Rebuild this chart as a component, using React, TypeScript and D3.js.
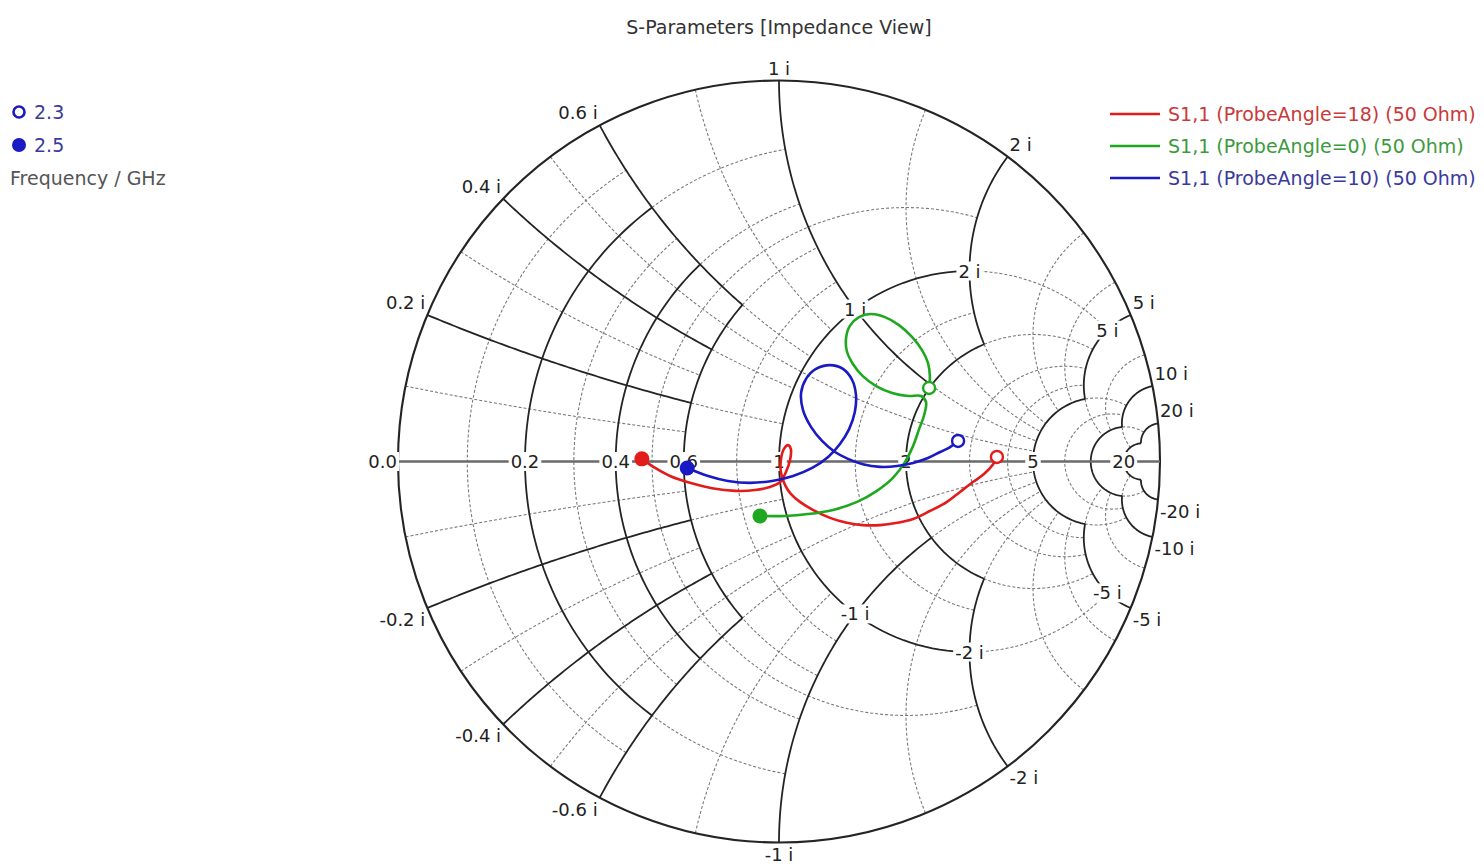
import React, { useEffect, useRef } from "react";
import * as d3 from "d3";

// S1,1 read off the chart as reflection coefficient [re, im],
// each trace runs from 2.3 GHz (open marker) to 2.5 GHz (filled marker)
const s11Angle18: [number, number][] = [
  [0.572, 0.012], [0.562, -0.007], [0.538, -0.033], [0.509, -0.054], [0.475, -0.08],
  [0.441, -0.106], [0.396, -0.13], [0.352, -0.151], [0.31, -0.161], [0.265, -0.167],
  [0.22, -0.167], [0.178, -0.161], [0.134, -0.148], [0.089, -0.127], [0.055, -0.106],
  [0.031, -0.085], [0.016, -0.062], [0.005, -0.028], [0.005, 0.004], [0.013, 0.033],
  [0.024, 0.043], [0.031, 0.033], [0.029, 0.004], [0.018, -0.028], [0.003, -0.054],
  [-0.024, -0.067], [-0.063, -0.075], [-0.115, -0.077], [-0.176, -0.07], [-0.234, -0.056],
  [-0.286, -0.038], [-0.325, -0.017], [-0.36, 0.007],
];
const s11Angle0: [number, number][] = [
  [0.394, 0.193], [0.396, 0.224], [0.391, 0.259], [0.375, 0.293], [0.349, 0.327],
  [0.315, 0.358], [0.278, 0.379], [0.241, 0.387], [0.21, 0.379], [0.186, 0.356],
  [0.176, 0.324], [0.178, 0.29], [0.194, 0.256], [0.22, 0.224], [0.255, 0.198],
  [0.297, 0.18], [0.339, 0.172], [0.373, 0.172], [0.386, 0.156], [0.381, 0.122],
  [0.367, 0.083], [0.352, 0.041], [0.331, -0.001], [0.299, -0.043], [0.257, -0.077],
  [0.205, -0.106], [0.142, -0.127], [0.076, -0.138], [0.016, -0.143], [-0.05, -0.143],
];
const s11Angle10: [number, number][] = [
  [0.47, 0.054], [0.449, 0.038], [0.423, 0.025], [0.391, 0.009], [0.352, -0.004],
  [0.31, -0.012], [0.265, -0.014], [0.22, -0.007], [0.181, 0.007], [0.147, 0.025],
  [0.113, 0.054], [0.084, 0.091], [0.063, 0.135], [0.058, 0.18], [0.071, 0.217],
  [0.097, 0.243], [0.134, 0.253], [0.168, 0.243], [0.192, 0.214], [0.202, 0.175],
  [0.199, 0.13], [0.184, 0.085], [0.16, 0.046], [0.129, 0.012], [0.087, -0.017],
  [0.037, -0.038], [-0.018, -0.051], [-0.076, -0.056], [-0.134, -0.051], [-0.186, -0.038],
  [-0.241, -0.017],
];

const seriesNames = [
  "S1,1 (ProbeAngle=18) (50 Ohm)",
  "S1,1 (ProbeAngle=0) (50 Ohm)",
  "S1,1 (ProbeAngle=10) (50 Ohm)",
];
const seriesData = [s11Angle18, s11Angle0, s11Angle10];
const seriesColors = ["#e31b1b", "#1fa81f", "#1a1ac4"];
const seriesText = ["#c93a3a", "#3c9a3c", "#3a3a9e"];

const freqMarks = ["2.3", "2.5"];

// grid: constant resistance circles / constant reactance arcs
// value, drawn solid up to, drawn dashed up to (in the other coordinate)
const rValues = [0.1, 0.2, 0.3, 0.4, 0.5, 0.6, 0.8, 1, 1.5, 2, 3, 4, 5, 7, 10, 20];
const rSolidTo = [0, 0.6, 0, 0.6, 0, 0.6, 0, 2, 0, 2, 0, 0, 5, 0, 10, 20];
const rDashTo = [0.6, 1, 0.6, 1, 2, 1, 1, 5, 2, 5, 5, 5, 10, 10, 20, 20];
const xValues = [0.1, 0.2, 0.3, 0.4, 0.5, 0.6, 0.8, 1, 1.5, 2, 3, 4, 5, 7, 10, 20];
const xSolidTo = [0, 0.6, 0, 0.6, 0, 0.6, 0, 2, 0, 2, 0, 0, 5, 0, 10, 20];
const xDashTo = [0.6, 1, 0.6, 1, 5, 1, 1, 5, 5, 5, 5, 5, 10, 10, 20, 20];

const outerTicks = [0.2, 0.4, 0.6, 1, 2, 5, 10, 20];
const innerTicks = [1, 2, 5];
const axisTicks = [0, 0.2, 0.4, 0.6, 1, 2, 5, 20];

const FONT = "Tahoma, 'DejaVu Sans', Verdana, sans-serif";

const gamma = (r: number, x: number): [number, number] => {
  const d = (r + 1) * (r + 1) + x * x;
  return [(r * r - 1 + x * x) / d, (2 * x) / d];
};
const norm = (a: number) => (a + 4 * Math.PI) % (2 * Math.PI);

// points along resistance circle r between reactances x1..x2
const rArc = (r: number, x1: number, x2: number): [number, number][] => {
  const c = r / (1 + r), rho = 1 / (1 + r);
  const ang = (x: number) => {
    const g = gamma(r, x);
    return norm(Math.atan2(g[1], g[0] - c));
  };
  const a1 = ang(x1), a2 = ang(x2);
  return d3.range(81).map((i) => {
    const a = a1 + ((a2 - a1) * i) / 80;
    return [c + rho * Math.cos(a), rho * Math.sin(a)];
  });
};

// points along reactance arc x between resistances r1..r2
const xArc = (x: number, r1: number, r2: number): [number, number][] => {
  const cy = 1 / x, rho = 1 / Math.abs(x);
  const ang = (r: number) => {
    const g = gamma(r, x);
    return norm(Math.atan2(g[1] - cy, g[0] - 1));
  };
  const a1 = ang(r1), a2 = ang(r2);
  return d3.range(81).map((i) => {
    const a = a1 + ((a2 - a1) * i) / 80;
    return [1 + rho * Math.cos(a), cy + rho * Math.sin(a)];
  });
};

const fmt = (v: number) => (Number.isInteger(v) ? String(v) : v.toFixed(1));

const SmithChart = () => {
  const ref = useRef<SVGSVGElement>(null);

  useEffect(() => {
    const svg = d3.select(ref.current);
    svg.selectAll("*").remove();

    const cx = 779, cy = 461.5, R = 381;
    const sx = d3.scaleLinear().domain([-1, 1]).range([cx - R, cx + R]);
    const sy = d3.scaleLinear().domain([-1, 1]).range([cy + R, cy - R]);
    const line = d3
      .line<[number, number]>()
      .x((d) => sx(d[0]))
      .y((d) => sy(d[1]));

    const grid = svg.append("g");
    const dashed = (pts: [number, number][]) =>
      grid.append("path").attr("d", line(pts)).attr("fill", "none")
        .attr("stroke", "#767676").attr("stroke-width", 1.05).attr("stroke-dasharray", "3,2");
    const solid = (pts: [number, number][]) =>
      grid.append("path").attr("d", line(pts)).attr("fill", "none")
        .attr("stroke", "#242424").attr("stroke-width", 1.8);

    // dashed (minor) parts first
    rValues.forEach((r, i) => {
      const s = rSolidTo[i], d = rDashTo[i];
      if (d > s) {
        if (s === 0) dashed(rArc(r, -d, d));
        else { dashed(rArc(r, s, d)); dashed(rArc(r, -d, -s)); }
      }
    });
    xValues.forEach((x, i) => {
      const s = xSolidTo[i], d = xDashTo[i];
      if (d > s) { dashed(xArc(x, s, d)); dashed(xArc(-x, s, d)); }
    });
    rValues.forEach((r, i) => {
      const s = rSolidTo[i];
      if (s > 0) solid(rArc(r, -s, s));
    });
    xValues.forEach((x, i) => {
      const s = xSolidTo[i];
      if (s > 0) { solid(xArc(x, 0, s)); solid(xArc(-x, 0, s)); }
    });

    grid.append("circle").attr("cx", sx(0)).attr("cy", sy(0)).attr("r", R)
      .attr("fill", "none").attr("stroke", "#242424").attr("stroke-width", 2.1);
    grid.append("line").attr("x1", sx(-1)).attr("x2", sx(1)).attr("y1", sy(0)).attr("y2", sy(0))
      .attr("stroke", "#6a6a6a").attr("stroke-width", 2.6);

    // labels with white boxes
    const labels = svg.append("g").attr("font-family", FONT).attr("font-size", 18).attr("fill", "#222");
    const addLabel = (x: number, y: number, txt: string, anchor: string, base: string, box: boolean) => {
      const t = labels.append("text").attr("x", x).attr("y", y).attr("text-anchor", anchor)
        .attr("dominant-baseline", base).text(txt);
      if (box) {
        const b = (t.node() as SVGTextElement).getBBox();
        labels.insert("rect", () => t.node() as any)
          .attr("x", b.x - 2).attr("y", b.y + 1).attr("width", b.width + 4).attr("height", b.height - 2)
          .attr("fill", "#fff");
      }
    };

    axisTicks.forEach((r) => {
      const g = gamma(r, 0);
      if (r === 0) addLabel(sx(g[0]) - 1, sy(0), "0.0", "end", "central", true);
      else addLabel(sx(g[0]), sy(0), fmt(r), "middle", "central", true);
    });

    outerTicks.forEach((x) => {
      [x, -x].forEach((v) => {
        const g = gamma(0, v);
        const px = sx(g[0]), py = sy(g[1]);
        const anchor = Math.abs(g[0]) < 0.05 ? "middle" : g[0] < 0 ? "end" : "start";
        const dx = anchor === "end" ? -2 : anchor === "start" ? 2 : 0;
        const y = v > 0 ? py - 6 : py + 18;
        addLabel(px + dx, y, `${fmt(v)} i`, anchor, "auto", false);
      });
    });

    innerTicks.forEach((x) => {
      [x, -x].forEach((v) => {
        const g = gamma(1, v);
        addLabel(sx(g[0]), sy(g[1]), `${fmt(v)} i`, "middle", "central", true);
      });
    });

    // traces
    const traces = svg.append("g");
    seriesData.forEach((data, i) => {
      traces.append("path")
        .attr("d", d3.line<[number, number]>().x((d) => sx(d[0])).y((d) => sy(d[1]))
          .curve(d3.curveCatmullRom.alpha(0.5))(data))
        .attr("fill", "none").attr("stroke", seriesColors[i]).attr("stroke-width", 2.6);
    });
    seriesData.forEach((data, i) => {
      const a = data[0], b = data[data.length - 1];
      traces.append("circle").attr("cx", sx(a[0])).attr("cy", sy(a[1])).attr("r", 6)
        .attr("fill", "#fff").attr("stroke", seriesColors[i]).attr("stroke-width", 2.4);
      traces.append("circle").attr("cx", sx(b[0])).attr("cy", sy(b[1])).attr("r", 7.5)
        .attr("fill", seriesColors[i]);
    });

    // title
    svg.append("text").attr("x", cx).attr("y", 34).attr("text-anchor", "middle")
      .attr("font-family", FONT).attr("font-size", 19).attr("fill", "#333")
      .text("S-Parameters [Impedance View]");

    // frequency marker legend
    const fl = svg.append("g").attr("font-family", FONT).attr("font-size", 19);
    fl.append("circle").attr("cx", 19).attr("cy", 112).attr("r", 5.5)
      .attr("fill", "#fff").attr("stroke", "#1a1ac4").attr("stroke-width", 2.6);
    fl.append("circle").attr("cx", 19).attr("cy", 145).attr("r", 7).attr("fill", "#1a1ac4");
    freqMarks.forEach((f, i) => {
      fl.append("text").attr("x", 34).attr("y", 119 + i * 33).attr("fill", "#3a3a9e").text(f);
    });
    fl.append("text").attr("x", 10).attr("y", 185).attr("fill", "#555").text("Frequency / GHz");

    // series legend
    const lg = svg.append("g").attr("font-family", FONT).attr("font-size", 19);
    seriesNames.forEach((n, i) => {
      const y = 114 + i * 32;
      lg.append("line").attr("x1", 1110).attr("x2", 1160).attr("y1", y).attr("y2", y)
        .attr("stroke", seriesColors[i]).attr("stroke-width", 2.5);
      lg.append("text").attr("x", 1168).attr("y", y + 7).attr("fill", seriesText[i]).text(n);
    });
  }, []);

  return <svg ref={ref} width={1484} height={866} style={{ display: "block", background: "#fff" }} />;
};

export default function App() {
  return (
    <div style={{ position: "absolute", left: 0, top: 0, background: "#fff" }}>
      <SmithChart />
    </div>
  );
}
